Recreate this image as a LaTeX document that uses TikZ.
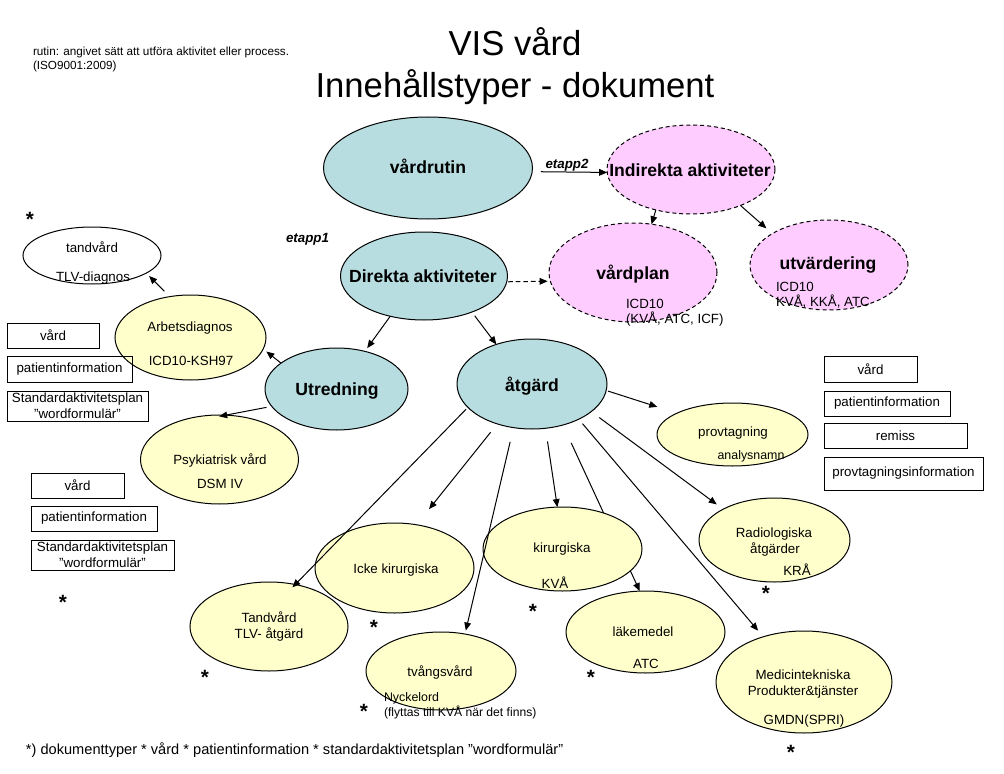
\documentclass[tikz,border=0pt]{standalone}
\usepackage{fontspec}
\setmainfont{Liberation Sans}
\usetikzlibrary{shapes.geometric,arrows.meta}
\definecolor{tealc}{RGB}{183,221,225}
\definecolor{pinkc}{RGB}{255,204,255}
\definecolor{yelc}{RGB}{255,255,204}
\pgfdeclarelayer{background}
\pgfsetlayers{background,main}
\tikzset{
  every node/.style={inner sep=0pt, outer sep=0pt},
  ell/.style={ellipse, draw=black, line width=0.75pt},
  tealell/.style={ell, fill=tealc},
  pinkell/.style={ell, fill=pinkc, dash pattern=on 3pt off 2.2pt},
  yelell/.style={ell, fill=yelc},
  whtell/.style={ell, fill=white},
  sz/.style 2 args={minimum width=#1*1.5pt, minimum height=#2*1.5pt},
  bx/.style 2 args={minimum width=#1*0.75pt, minimum height=#2*0.75pt},
  lbl/.style={anchor=base, font=\fontsize{10}{11.5}\selectfont},
  lblw/.style={lbl, anchor=base west},
  bigl/.style={anchor=base, font=\fontsize{13.2}{15}\selectfont\bfseries},
  titl/.style={anchor=base, font=\fontsize{26}{30}\selectfont},
  starl/.style={anchor=base, font=\fontsize{15.5}{15.5}\selectfont\bfseries},
  etp/.style={anchor=base, font=\fontsize{10}{12}\selectfont\bfseries\itshape},
  docbox/.style={draw, line width=0.75pt, anchor=north west, align=center, font=\fontsize{10}{12}\selectfont},
  arr/.style={-{Triangle[length=6pt,width=5pt]}, line width=0.75pt},
}
\begin{document}
\begin{tikzpicture}[x=0.75pt,y=-0.75pt]
\begin{pgfonlayer}{background}
\fill[white] (0,0) rectangle (1004,774);
\end{pgfonlayer}
\useasboundingbox (0,0) rectangle (1004,774);

% titles and notes
\node[titl] (t1) at (515,56) {VIS vård};
\node[titl] (t2) at (515,98) {Innehållstyper - dokument};
\node[anchor=base west, font=\fontsize{8.8}{10}\selectfont] (n1) at (33,55.5) {rutin: angivet sätt att utföra aktivitet eller process.};
\node[anchor=base west, font=\fontsize{8.8}{10}\selectfont] (n2) at (33,69.5) {(ISO9001:2009)};
\node[anchor=base west, font=\fontsize{10.95}{12}\selectfont] (foot) at (26,754) {*) dokumenttyper * vård * patientinformation * standardaktivitetsplan ”wordformulär”};

% ellipses
\node[tealell, sz={104.5}{51}] (vr) at (428,168) {};
\node[pinkell, sz={84}{44.5}] (ind) at (691,169.5) {};
\node[tealell, sz={83.5}{44}] (dir) at (424,276) {};
\node[pinkell, sz={84}{49.5}] (vp) at (633,272.5) {};
\node[pinkell, sz={79}{45}] (utv) at (829,265) {};
\node[whtell, sz={69}{28.5}] (tand) at (92,255.5) {};
\node[yelell, sz={75.5}{42.5}] (arb) at (190.5,337.5) {};
\node[tealell, sz={71.5}{41}] (utr) at (336.5,389) {};
\node[tealell, sz={75}{45}] (atg) at (532,384) {};
\node[yelell, sz={79}{44.5}] (psy) at (219.5,459.5) {};
\node[yelell, sz={75.5}{31.5}] (prov) at (732.5,434.5) {};
\node[yelell, sz={75.5}{42}] (rad) at (774.5,540) {};
\node[yelell, sz={79.5}{42}] (kir) at (562.5,549) {};
\node[yelell, sz={79.5}{45}] (icke) at (394.5,568) {};
\node[yelell, sz={79}{44.5}] (ttlv) at (269,626.5) {};
\node[yelell, sz={79.5}{41}] (lak) at (645.5,632) {};
\node[yelell, sz={75}{39}] (tvang) at (441,671) {};
\node[yelell, sz={88}{51}] (med) at (804,682) {};

% connectors
\begin{pgfonlayer}{background}
\draw[arr, shorten <=14.8pt] (atg.-53.6) -- (lak.98.6);
\end{pgfonlayer}
\draw[arr, shorten <=6.5pt] (vr.-2.5) -- (ind.182.4);
\draw[arr, dash pattern=on 3.5pt off 2.2pt, shorten <=1pt, shorten >=2pt] (dir.-4.1) -- (vp.186.4);
\draw[arr] (ind.-131.35) -- (vp.69.4);
\draw[arr, shorten >=6pt] (ind.-36.3) -- (utv.151.3);
\draw[arr, shorten >=3pt] (dir.-130.4) -- (utr.53.8);
\draw[arr, shorten <=3.5pt] (dir.-37.4) -- (atg.132);
\draw[arr, shorten >=3pt] (utr.155.3) -- (arb.-9.8);
\draw[arr, shorten <=5.7pt, shorten >=3pt] (arb.117.6) -- (tand.-18.8);
\draw[arr, shorten <=4pt, shorten >=-5pt] (utr.-165.9) -- (psy.82.6);
\draw[arr, shorten <=1.5pt, shorten >=15.5pt] (atg.-5.2) -- (prov.159.2);
\draw[arr, shorten <=8pt, shorten >=15pt] (atg.-131.2) -- (icke.63.4);
\draw[arr, shorten <=2pt, shorten >=-3pt] (atg.-160.3) -- (ttlv.58.06);
\draw[arr, shorten <=11pt, shorten >=2.7pt] (atg.-113.7) -- (tvang.57);
\draw[arr, shorten <=10pt] (atg.-73.4) -- (kir.97.3);
\draw[arr, shorten <=7.5pt, shorten >=6pt] (atg.-25.2) -- (rad.149.1);
\draw[arr, shorten <=4.4pt, shorten >=6pt] (atg.-37.4) -- (med.132.7);

% stage labels
\node[etp] (e1) at (307.5,242) {etapp1};
\node[etp] (e2) at (567,168) {etapp2};

% main labels
\node[bigl] (Lvr) at (428,173) {vårdrutin};
\node[bigl] (Lind) at (690,176) {Indirekta aktiviteter};
\node[bigl] (Ldir) at (423,282) {Direkta aktiviteter};
\node[bigl] (Lvp) at (633,279) {vårdplan};
\node[bigl] (Lutv) at (828,269) {utvärdering};
\node[bigl] (Lutr) at (337,395) {Utredning};
\node[bigl] (Latg) at (532,391) {åtgärd};

% small labels
\node[lblw] (vp1) at (626,308.6) {ICD10};
\node[lblw] (vp2) at (626,323.6) {(KVÅ, ATC, ICF)};
\node[lblw] (utv1) at (776,291.6) {ICD10};
\node[lblw] (utv2) at (776,306.6) {KVÅ, KKÅ, ATC};
\node[lbl] (tand1) at (92,252.6) {tandvård};
\node[lbl] (tand2) at (93,281.6) {TLV-diagnos};
\node[lbl] (arb1) at (190,331.6) {Arbetsdiagnos};
\node[lbl] (arb2) at (191,365.6) {ICD10-KSH97};
\node[lbl] (psy1) at (220,464.6) {Psykiatrisk vård};
\node[lbl] (psy2) at (220,488.6) {DSM IV};
\node[lbl] (tt1) at (269,622.6) {Tandvård};
\node[lbl] (tt2) at (269,638.6) {TLV- åtgärd};
\node[lbl] (ick1) at (396,573.6) {Icke kirurgiska};
\node[lbl] (kir1) at (562,552.6) {kirurgiska};
\node[lbl] (kir2) at (555,588.6) {KVÅ};
\node[lbl] (lak1) at (643,636.6) {läkemedel};
\node[lbl] (lak2) at (646,668.6) {ATC};
\node[lbl] (med1) at (803,679.6) {Medicintekniska};
\node[lbl] (med2) at (803,695.6) {Produkter\&tjänster};
\node[lbl] (med3) at (804,724.6) {GMDN(SPRI)};
\node[lbl] (rad1) at (774,537.6) {Radiologiska};
\node[lbl] (rad2) at (775,553.6) {åtgärder};
\node[lbl] (rad3) at (797,575.6) {KRÅ};
\node[lbl] (prov1) at (733,436.6) {provtagning};
\node[lbl, font=\fontsize{9.3}{11}\selectfont] (prov2) at (751,459.6) {analysnamn};
\node[lbl] (tv1) at (440,676.6) {tvångsvård};
\node[lblw, font=\fontsize{9.3}{11}\selectfont] (tv2) at (384,701.6) {Nyckelord};
\node[lblw, font=\fontsize{9.1}{11}\selectfont] (tv3) at (384,716.6) {(flyttas till KVÅ när det finns)};

% document boxes
\node[docbox, bx={92}{25}] (l1a) at (7,323) {vård};
\node[docbox, bx={125}{26}] (l1b) at (7,356) {patientinformation};
\node[docbox, bx={141}{30}] (l1c) at (7,391) {Standardaktivitetsplan\\”wordformulär”};
\node[docbox, bx={93}{25}] (l2a) at (31,473) {vård};
\node[docbox, bx={126}{25}] (l2b) at (31,506) {patientinformation};
\node[docbox, bx={143}{30}] (l2c) at (31,540) {Standardaktivitetsplan\\”wordformulär”};
\node[docbox, bx={93}{26}] (r1) at (824,356) {vård};
\node[docbox, bx={126}{25}] (r2) at (824,391) {patientinformation};
\node[docbox, bx={143}{25}] (r3) at (824,423) {remiss};
\node[docbox, bx={159}{33}] (r4) at (824,457) {provtagningsinformation};

% asterisks
\node[starl] (s1) at (30,226) {*};
\node[starl] (s2) at (63,609) {*};
\node[starl] (s3) at (205,684) {*};
\node[starl] (s4) at (374,634) {*};
\node[starl] (s5) at (364,718) {*};
\node[starl] (s6) at (533,618) {*};
\node[starl] (s7) at (591,684) {*};
\node[starl] (s8) at (791,759) {*};
\node[starl] (s9) at (766,600) {*};
\end{tikzpicture}
\end{document}
